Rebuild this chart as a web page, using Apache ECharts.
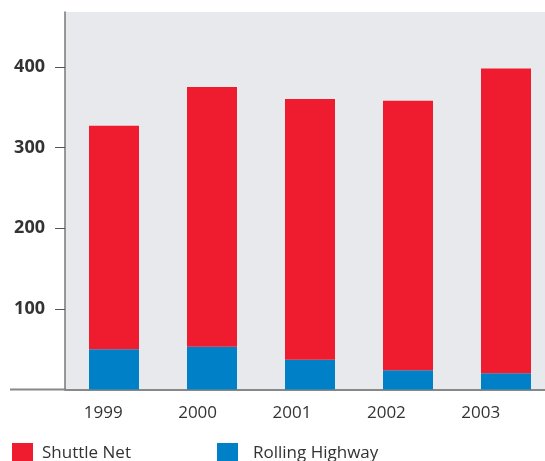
<!DOCTYPE html>
<html>
<head>
<meta charset="utf-8">
<script src="https://cdn.jsdelivr.net/npm/echarts@6/dist/echarts.min.js"></script>
<style>
  html, body { margin: 0; padding: 0; background: #fff; }
  #chart { width: 545px; height: 461px; }
</style>
</head>
<body>
<div id="chart"></div>
<script>
// data
var years = ["1999", "2000", "2001", "2002", "2003"];
var rollingHighway = [50, 53, 37, 24, 20];
var shuttleNet = [277, 322, 323, 334, 378];
var yTicks = [100, 200, 300, 400];

var chart = echarts.init(document.getElementById("chart"));
var font = "'Open Sans', 'DejaVu Sans', sans-serif";

var option = {
  animation: false,
  grid: [{
    // bars (the plot runs past the right edge of the picture)
    left: 65, width: 490, top: 12, bottom: 71.5,
    outerBoundsMode: "none",
    show: true,
    backgroundColor: "#E8E9ED",
    borderWidth: 0
  }, {
    // year labels (sit a little off the bar centres)
    left: 56, right: 17, top: 12, bottom: 71.5,
    outerBoundsMode: "none"
  }],
  legend: [{
    data: ["Shuttle Net"],
    left: 12, top: 443, padding: 0,
    icon: "rect", itemWidth: 21, itemHeight: 21,
    textStyle: { fontFamily: font, fontSize: 17, color: "#333", padding: [0, 0, 4, 4] }
  }, {
    data: ["Rolling Highway"],
    left: 217, top: 443, padding: 0,
    icon: "rect", itemWidth: 21, itemHeight: 21,
    textStyle: { fontFamily: font, fontSize: 17, color: "#333", padding: [0, 0, 4, 10] }
  }],
  xAxis: [{
    type: "category",
    gridIndex: 0,
    data: years,
    axisLine: { show: true, lineStyle: { color: "#888", width: 2 } },
    axisTick: { show: false },
    axisLabel: { show: false }
  }, {
    type: "category",
    gridIndex: 1,
    data: years,
    axisLine: { show: false },
    axisTick: { show: false },
    axisLabel: { fontFamily: font, fontSize: 17, color: "#333", margin: 15 }
  }],
  yAxis: [{
    type: "value",
    gridIndex: 0,
    min: 0,
    max: 468,
    interval: 100,
    splitLine: { show: false },
    axisLine: { show: true, lineStyle: { color: "#777", width: 1.5 } },
    axisTick: { show: true, length: 10, lineStyle: { color: "#555" }, customValues: yTicks },
    axisLabel: {
      customValues: yTicks,
      fontFamily: font, fontSize: 18, fontWeight: "bold", color: "#333",
      margin: 20, padding: [0, 0, 8, 0]
    }
  }, {
    type: "value",
    gridIndex: 1,
    show: false
  }],
  graphic: [{
    // baseline runs out past the left axis
    type: "line",
    shape: { x1: 10, y1: 389.5, x2: 66, y2: 389.5 },
    style: { stroke: "#888", lineWidth: 2 },
    silent: true
  }],
  series: [{
    name: "Rolling Highway",
    type: "bar",
    stack: "total",
    barWidth: 50,
    itemStyle: { color: "#0080C6" },
    data: rollingHighway
  }, {
    name: "Shuttle Net",
    type: "bar",
    stack: "total",
    barWidth: 50,
    itemStyle: { color: "#EE1C2E" },
    data: shuttleNet
  }]
};

chart.setOption(option);
</script>
</body>
</html>
